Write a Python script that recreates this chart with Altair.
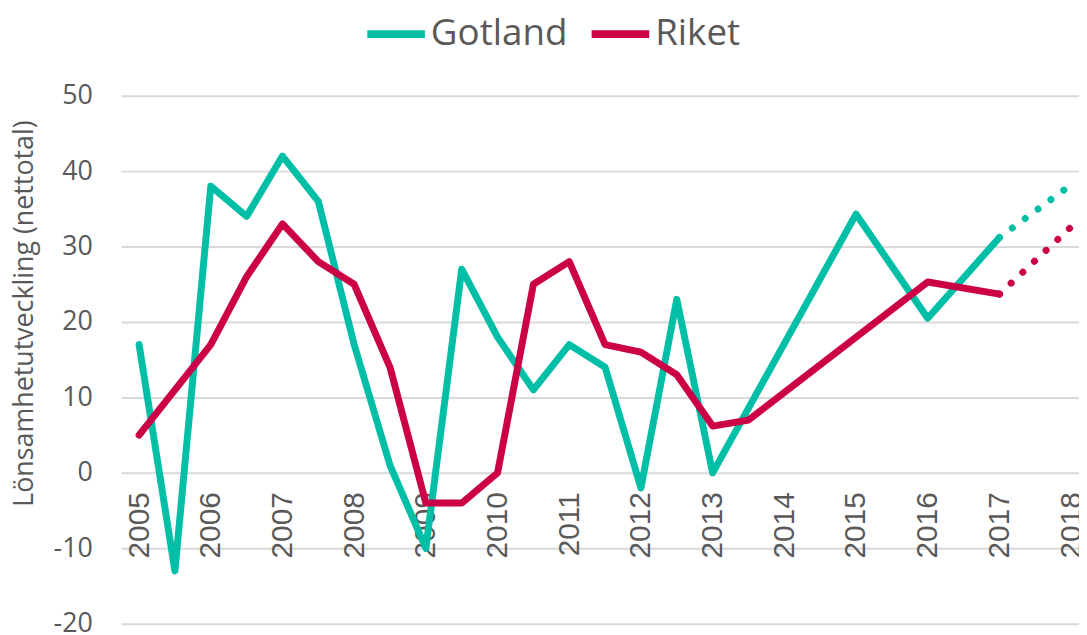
import altair as alt
import pandas as pd

series_names = ["Gotland", "Riket"]
series_colors = ["#00BFA6", "#CC0046"]

gotland_years = [2005, 2005.5, 2006, 2006.5, 2007, 2007.5, 2008, 2008.5, 2009, 2009.5,
                 2010, 2010.5, 2011, 2011.5, 2012, 2012.5, 2013, 2015, 2016, 2017]
gotland_values = [17, -13, 38, 34, 42, 36, 17, 1, -10, 27,
                  18, 11, 17, 14, -2, 23, 0, 34.3, 20.5, 31.2]

riket_years = [2005, 2006, 2006.5, 2007, 2007.5, 2008, 2008.5, 2009, 2009.5,
               2010, 2010.5, 2011, 2011.5, 2012, 2012.5, 2013, 2013.5, 2016, 2017]
riket_values = [5, 17, 26, 33, 28, 25, 14, -4, -4,
                0, 25, 28, 17, 16, 13, 6.2, 7, 25.3, 23.7]

forecast_years = [2017, 2018]
gotland_forecast = [31.2, 38.2]
riket_forecast = [23.7, 32.6]

year_ticks = list(range(2005, 2019))
value_ticks = [-20, -10, 0, 10, 20, 30, 40, 50]
y_title = "Lönsamhetutveckling (nettotal)"

solid = pd.DataFrame({
    "year": gotland_years + riket_years,
    "value": gotland_values + riket_values,
    "serie": ["Gotland"] * len(gotland_years) + ["Riket"] * len(riket_years),
})
dotted = pd.DataFrame({
    "year": forecast_years + forecast_years,
    "value": gotland_forecast + riket_forecast,
    "serie": ["Gotland"] * 2 + ["Riket"] * 2,
})

FONT = "Open Sans"
XFONT = "Liberation Sans"
GREY = "#595959"

color_scale = alt.Scale(domain=series_names, range=series_colors)

x_enc = alt.X(
    "year:Q",
    scale=alt.Scale(domain=[2004.75, 2018.11], nice=False, zero=False),
    axis=alt.Axis(
        values=year_ticks, format="d", labelAngle=270, offset=-152,
        labelPadding=19, domain=False, ticks=False, grid=False,
        labelFontSize=30, labelFont=XFONT, labelColor=GREY, title=None,
        labelOverlap=False, labelFlush=False, labelBound=False,
    ),
)
y_enc = alt.Y(
    "value:Q",
    scale=alt.Scale(domain=[-20, 50], nice=False, zero=False),
    axis=alt.Axis(
        values=value_ticks, grid=True, gridColor="#D9D9D9", gridWidth=2,
        domain=False, ticks=False, labelPadding=29, labelFontSize=27,
        labelFont=FONT, labelColor=GREY, labelExpr="'' + datum.value",
        title=y_title, titleFont=FONT, titleFontSize=27, titleFontWeight="normal",
        titleColor=GREY, titleAngle=270, titleAlign="center", titleBaseline="middle",
        titleX=-97, titleY=219,
    ),
)

solid_layer = alt.Chart(solid).mark_line(
    strokeWidth=7, strokeCap="round", strokeJoin="round"
).encode(
    x=x_enc,
    y=y_enc,
    color=alt.Color(
        "serie:N", scale=color_scale,
        legend=alt.Legend(
            title=None, orient="none", legendX=244, legendY=-95, direction="horizontal",
            symbolType="stroke", symbolSize=3364, symbolStrokeWidth=8,
            labelFontSize=37, labelFont=FONT, labelColor=GREY, labelOffset=2,
            columnPadding=8, padding=0,
        ),
    ),
    order="year:Q",
)

dotted_layer = alt.Chart(dotted).mark_line(
    strokeWidth=7, strokeCap="round", strokeDash=[0.1, 16]
).encode(
    x="year:Q",
    y="value:Q",
    color=alt.Color("serie:N", scale=color_scale, legend=None),
    order="year:Q",
)

chart = alt.layer(solid_layer, dotted_layer).properties(
    width=965, height=532,
    autosize=alt.AutoSizeParams(type="none"),
    padding={"left": 114, "top": 86, "right": 0, "bottom": 9},
).configure_view(stroke=None)

chart.save("out.html", embed_options={"renderer": "svg", "actions": False})
